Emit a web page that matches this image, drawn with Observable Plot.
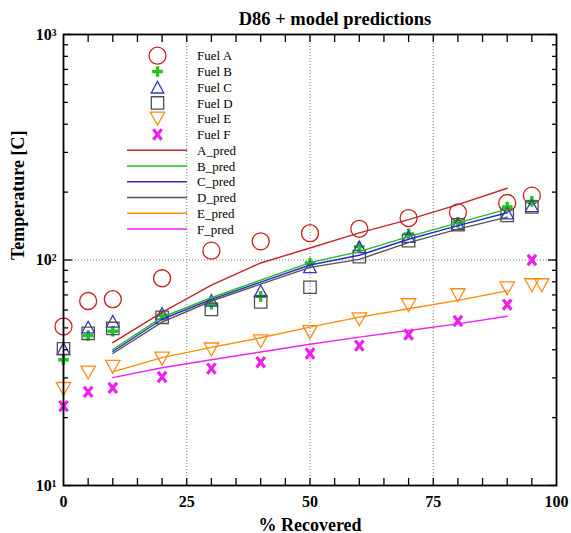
<!DOCTYPE html>
<html><head><meta charset="utf-8">
<script src="https://cdn.jsdelivr.net/npm/d3@7"></script>
<script src="https://cdn.jsdelivr.net/npm/@observablehq/plot@0.6"></script>
<style>body{margin:0;background:#fff} svg{display:block}</style>
</head><body><div id="chart"></div>
<script>
// ---- data ----
const recovered = [0, 5, 10, 20, 30, 40, 50, 60, 70, 80, 90, 95];
const recoveredE = [0, 5, 10, 20, 30, 40, 50, 60, 70, 80, 90, 95, 97];
const fuelA = [50.7, 65.8, 67, 83, 110, 121, 131.5, 137.5, 153.5, 162.5, 179, 193];
const fuelB = [36.1, 46.2, 48.3, 56.8, 63.6, 69, 97, 114.6, 130.6, 146.8, 171.8, 182];
const fuelC = [40.5, 50.4, 53.5, 58, 66.2, 73, 93.3, 114.3, 127, 144.8, 161.5, 174];
const fuelD = [40.4, 47.3, 49.7, 55.7, 60.4, 65.2, 75.7, 103.5, 121.9, 143.3, 157.7, 171.8];
const fuelE = [26.8, 31.7, 33.6, 36.5, 40.1, 43.6, 47.9, 54.6, 63, 69.8, 74.8, 77.3, 77.3];
const fuelF = [22.5, 26, 27.1, 30.3, 33, 35.2, 38.5, 41.7, 46.7, 53.6, 63.4, 100];

const predX = [10, 20, 30, 40, 50, 60, 70, 80, 90];
const predA = [43, 58.6, 77.3, 97, 113, 132, 151, 176, 208];
const predB = [40.1, 55.8, 68, 81.5, 97.3, 109, 127, 146, 168];
const predC = [39.3, 54.6, 66.9, 79.8, 95, 105, 123.6, 142, 162];
const predD = [38.5, 53, 65.8, 78.2, 92.7, 100.7, 119.4, 137, 155];
const predE = [31.9, 36.9, 41, 45.2, 50.4, 55.8, 60.8, 66.2, 73];
const predF = [30.1, 33.3, 36.1, 39.1, 42.3, 45.5, 48.7, 52.1, 56.3];

const xMinorTicks = [5, 10, 15, 20, 25, 30, 35, 40, 45, 50, 55, 60, 65, 70, 75, 80, 85, 90, 95];
const xLabelTicks = [0, 25, 50, 75, 100];
const yMajorTicks = [10, 100, 1000];
const yMinorTicks = [20, 30, 40, 50, 60, 70, 80, 90, 200, 300, 400, 500, 600, 700, 800, 900];
const yTickLabels = ["10¹", "10²", "10³"];
const gridX = [25, 50, 75];
const gridY = [100];

const title = "D86 + model predictions";
const xLabel = "% Recovered";
const yLabel = "Temperature [C]";

// ---- styling ----
const serif = "'Liberation Serif','Times New Roman',Times,serif";
const col = {
  A: "#c8201e", B: "#1ec81e", C: "#3535c8", D: "#505050", E: "#ff8a14", F: "#ee1fee",
  Ap: "#c0272d", Bp: "#22bb22", Cp: "#2a2acc", Dp: "#555555", Ep: "#ff8c00", Fp: "#ee22ee"
};

const symUp = {draw(c, s) { const r = Math.sqrt(s / Math.PI); c.moveTo(0, -0.92 * r); c.lineTo(r, 0.92 * r); c.lineTo(-r, 0.92 * r); c.closePath(); }};
const symDown = {draw(c, s) { const r = Math.sqrt(s / Math.PI); c.moveTo(0, 0.9 * r); c.lineTo(r, -0.9 * r); c.lineTo(-r, -0.9 * r); c.closePath(); }};
const symSquare = {draw(c, s) { const r = Math.sqrt(s / Math.PI); c.rect(-r, -r, 2 * r, 2 * r); }};
const symPlus = {draw(c, s) { const r = Math.sqrt(s / Math.PI), t = r * 0.32;
  c.moveTo(-r, -t); c.lineTo(-t, -t); c.lineTo(-t, -r); c.lineTo(t, -r); c.lineTo(t, -t); c.lineTo(r, -t);
  c.lineTo(r, t); c.lineTo(t, t); c.lineTo(t, r); c.lineTo(-t, r); c.lineTo(-t, t); c.lineTo(-r, t); c.closePath(); }};
const symX = {draw(c, s) { const r = Math.sqrt(s / Math.PI); c.moveTo(-0.8 * r, -r); c.lineTo(0.8 * r, r); c.moveTo(0.8 * r, -r); c.lineTo(-0.8 * r, r); }};

const series = [
  {name: "Fuel A", xs: recovered, ys: fuelA, sym: "circle", r: 8.5, stroke: col.A, fill: "none", sw: 1.3},
  {name: "Fuel B", xs: recovered, ys: fuelB, sym: symPlus, r: 5.3, stroke: "none", fill: col.B, sw: 0},
  {name: "Fuel C", xs: recovered, ys: fuelC, sym: symUp, r: 6.3, stroke: col.C, fill: "none", sw: 1.3},
  {name: "Fuel D", xs: recovered, ys: fuelD, sym: symSquare, r: 6.2, stroke: col.D, fill: "none", sw: 1.3},
  {name: "Fuel E", xs: recoveredE, ys: fuelE, sym: symDown, r: 7.2, stroke: col.E, fill: "none", sw: 1.3},
  {name: "Fuel F", xs: recovered, ys: fuelF, sym: symX, r: 5.2, stroke: col.F, fill: "none", sw: 3.2}
];
const preds = [
  {name: "A_pred", ys: predA, stroke: col.Ap},
  {name: "B_pred", ys: predB, stroke: col.Bp},
  {name: "C_pred", ys: predC, stroke: col.Cp},
  {name: "D_pred", ys: predD, stroke: col.Dp},
  {name: "E_pred", ys: predE, stroke: col.Ep},
  {name: "F_pred", ys: predF, stroke: col.Fp}
];

const toRows = (xs, ys) => xs.map((x, i) => ({x, y: ys[i]}));

const marks = [
  Plot.ruleX(gridX, {stroke: "#777", strokeDasharray: "1,2", strokeWidth: 1}),
  Plot.ruleY(gridY, {stroke: "#777", strokeDasharray: "1,2", strokeWidth: 1}),
  ...series.map(s => Plot.dot(toRows(s.xs, s.ys), {x: "x", y: "y", symbol: s.sym, r: s.r, stroke: s.stroke, fill: s.fill, strokeWidth: s.sw})),
  ...preds.map(p => Plot.line(toRows(predX, p.ys), {x: "x", y: "y", stroke: p.stroke, strokeWidth: 1.4})),
  Plot.axisX(xMinorTicks, {anchor: "bottom", tickSize: -7, tickFormat: () => "", label: null, strokeWidth: 1.3}),
  Plot.axisX(xMinorTicks, {anchor: "top", tickSize: -7, tickFormat: () => "", label: null, strokeWidth: 1.3}),
  Plot.axisY(yMinorTicks, {anchor: "left", tickSize: -5, tickFormat: () => "", label: null, strokeWidth: 1.3}),
  Plot.axisY(yMinorTicks, {anchor: "right", tickSize: -5, tickFormat: () => "", label: null, strokeWidth: 1.3}),
  Plot.axisY(yMajorTicks, {anchor: "left", tickSize: -9, tickFormat: () => "", label: null, strokeWidth: 1.3}),
  Plot.axisY(yMajorTicks, {anchor: "right", tickSize: -9, tickFormat: () => "", label: null, strokeWidth: 1.3}),
  Plot.axisX(xLabelTicks, {anchor: "bottom", tickSize: 0, tickPadding: 10, label: null, fontSize: 16, fontWeight: "bold", fill: "black"}),
  Plot.axisY(yMajorTicks, {anchor: "left", tickSize: 0, tickPadding: 7, label: null, fontSize: 16, fontWeight: "bold", fill: "black",
    tickFormat: d => yTickLabels[yMajorTicks.indexOf(d)]}),
  Plot.frame({stroke: "black", strokeWidth: 1.8}),
  Plot.text([title], {frameAnchor: "top", lineAnchor: "bottom", dy: -10, dx: 25, fontSize: 18.5, fontWeight: "bold", fill: "black"}),
  Plot.text([xLabel], {frameAnchor: "bottom", lineAnchor: "bottom", dy: 45, fontSize: 18, fontWeight: "bold", fill: "black"}),
  Plot.text([yLabel], {frameAnchor: "left", rotate: -90, dx: -45, fontSize: 18, fontWeight: "bold", fill: "black"})
];

const chart = Plot.plot({
  width: 571, height: 533,
  marginLeft: 63, marginRight: 15, marginTop: 34, marginBottom: 48,
  style: {fontFamily: serif, background: "white", color: "black", overflow: "visible"},
  x: {domain: [0, 100], axis: null},
  y: {type: "log", domain: [10, 1000], axis: null},
  marks
});
document.getElementById("chart").appendChild(chart);

// ---- legend (layout only) ----
const svg = d3.select(chart);
const lg = svg.append("g").attr("font-family", serif).attr("font-size", 13).attr("fill", "black").attr("text-anchor", "start");
const rowY = i => 55.7 + i * 15.75;
series.forEach((s, i) => {
  const y = rowY(i);
  const p = d3.path();
  const sym = s.sym === "circle" ? {draw(c, sz) { const r = Math.sqrt(sz / Math.PI); c.moveTo(r, 0); c.arc(0, 0, r, 0, 2 * Math.PI); }} : s.sym;
  sym.draw(p, Math.PI * s.r * s.r);
  lg.append("path").attr("d", p.toString()).attr("transform", `translate(157.5,${y})`)
    .attr("fill", s.fill).attr("stroke", s.stroke).attr("stroke-width", s.sw);
  lg.append("text").attr("x", 197).attr("y", y).attr("dy", "0.35em").text(s.name);
});
preds.forEach((p, j) => {
  const y = rowY(series.length + j);
  lg.append("line").attr("x1", 127).attr("x2", 187).attr("y1", y).attr("y2", y)
    .attr("stroke", p.stroke).attr("stroke-width", 1.4);
  lg.append("text").attr("x", 197).attr("y", y).attr("dy", "0.35em").text(p.name);
});
</script>
</body></html>
